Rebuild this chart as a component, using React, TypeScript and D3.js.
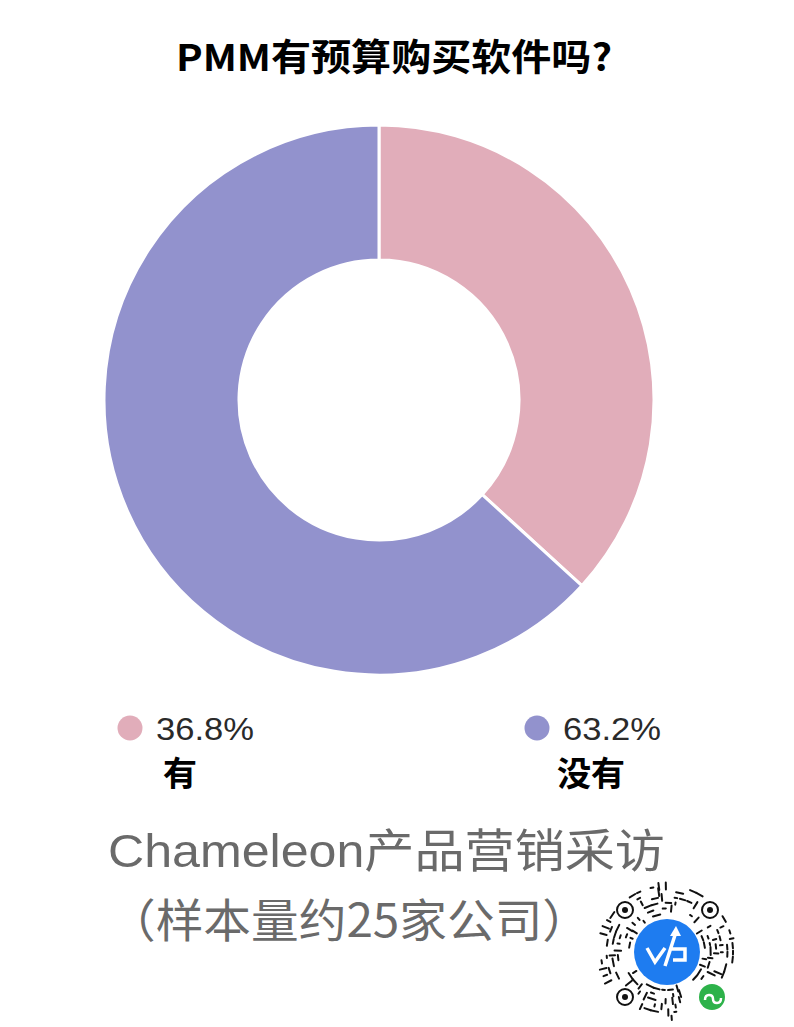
import React from "react";
import * as d3 from "d3";

const categories = ["有", "没有"];
const values = [36.8, 63.2];
const valueLabels = ["36.8%", "63.2%"];
const colors = ["#E1ADBA", "#9292CD"];
const title = "PMM有预算购买软件吗?";
const footer1 = "Chameleon产品营销采访";
const footer2 = "（样本量约25家公司）";

const W = 794, H = 1027;
const cx = 379, cy = 400, R = 275, r0 = 140;

function QR() {
  const qx = 667, qy = 952;
  // deterministic pseudo pattern for decorative code
  let seed = 7;
  const rnd = () => { seed = (seed * 16807) % 2147483647; return seed / 2147483647; };
  const dashes: JSX.Element[] = [];
  const finders = [[625, 910], [710, 910], [625, 997]];
  for (let ring = 0; ring < 6; ring++) {
    const rr = 38 + ring * 5.6;
    const n = Math.round(rr * 0.9);
    for (let i = 0; i < n; i++) {
      if (rnd() < 0.45) continue;
      const a = (i / n) * Math.PI * 2 + ring * 0.3;
      const x = qx + rr * Math.cos(a), y = qy + rr * Math.sin(a);
      if (finders.some(([fx, fy]) => Math.hypot(x - fx, y - fy) < 13)) continue;
      if (Math.hypot(x - 712, y - 997) < 18) continue;
      const len = 2 + rnd() * 6;
      const ang = rnd() < 0.5 ? a : a + Math.PI / 2;
      dashes.push(
        <line key={ring + "-" + i} x1={x - Math.cos(ang) * len / 2} y1={y - Math.sin(ang) * len / 2}
          x2={x + Math.cos(ang) * len / 2} y2={y + Math.sin(ang) * len / 2}
          stroke="#111" strokeWidth={2} strokeLinecap="round" />
      );
    }
  }
  return (
    <g>
      {dashes}
      {finders.map(([fx, fy], i) => (
        <g key={i}>
          <circle cx={fx} cy={fy} r={8} fill="none" stroke="#111" strokeWidth={2} />
          <circle cx={fx} cy={fy} r={3} fill="#111" />
        </g>
      ))}
      <circle cx={qx} cy={qy} r={33} fill="#1E7CF0" />
      <path d={`M${qx - 20},${qy - 4} L${qx - 12},${qy + 10} L${qx - 2},${qy - 4} M${qx - 2},${qy + 14} L${qx + 9},${qy - 20} M${qx + 3},${qy - 3} L${qx + 18},${qy - 3} L${qx + 18},${qy + 8} L${qx + 6},${qy + 8}`}
        fill="none" stroke="#fff" strokeWidth={3.5} strokeLinejoin="miter" />
      <path d={`M${qx + 9},${qy - 26} L${qx + 3},${qy - 16} L${qx + 14},${qy - 16} Z`} fill="#fff" />
      <circle cx={712} cy={997} r={15} fill="#fff" />
      <circle cx={712} cy={997} r={13} fill="#2DB24A" />
      <path d={`M${705},${1000} q0,-5 4,-5 q4,0 4,4 q0,4 4,4 q4,0 4,-5`} fill="none" stroke="#fff" strokeWidth={2.5} />
    </g>
  );
}

export default function App() {
  const pie = d3.pie<number>().sort(null).value((d) => d)(values);
  const arc = d3.arc<d3.PieArcDatum<number>>().innerRadius(r0).outerRadius(R);
  const legendX = [130, 537];
  const nameX = [163, 557];
  const cjk = "'Noto Sans CJK SC', sans-serif";
  const latin = "'Liberation Sans', Arial, sans-serif";
  return (
    <svg width={W} height={H} style={{ position: "absolute", left: 0, top: 0, background: "#fff" }}>
      <rect width={W} height={H} fill="#fff" />
      <text x={176} y={71} fontFamily={cjk} fontWeight={700} fontSize={37} fill="#000" textLength={436} lengthAdjust="spacingAndGlyphs">
        {title}
      </text>
      <g transform={`translate(${cx},${cy})`}>
        {pie.map((p, i) => (
          <path key={i} d={arc(p) || ""} fill={colors[i]} stroke="#fff" strokeWidth={3} />
        ))}
      </g>
      {categories.map((c, i) => (
        <g key={c}>
          <circle cx={legendX[i]} cy={728} r={12.5} fill={colors[i]} />
          <text x={legendX[i] + 26} y={740} fontFamily={latin} fontSize={32} fill="#2a2a2a" textLength={98} lengthAdjust="spacingAndGlyphs">{valueLabels[i]}</text>
          <text x={nameX[i]} y={786} fontFamily={cjk} fontWeight={700} fontSize={34} fill="#000">{c}</text>
        </g>
      ))}
      <text x={108} y={867} fontFamily={cjk} fontSize={46} fill="#6a6a6a" textLength={557} lengthAdjust="spacingAndGlyphs">
        <tspan fontFamily={latin}>Chameleon</tspan>产品营销采访
      </text>
      <text x={108} y={937} fontFamily={cjk} fontSize={46} fill="#6a6a6a" textLength={482} lengthAdjust="spacingAndGlyphs">
        {footer2}
      </text>
      <QR />
    </svg>
  );
}
